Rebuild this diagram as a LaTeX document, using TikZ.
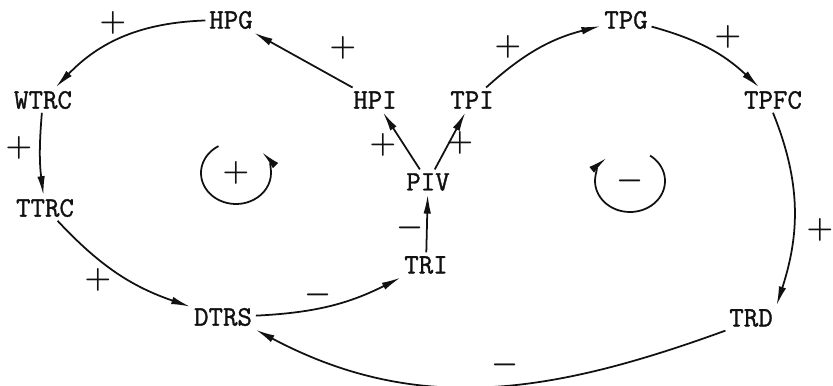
\documentclass[tikz,border=0pt]{standalone}
\usepackage{fontspec}
\usepackage{amsmath}
\newfontfamily\typefont[FakeBold=1.2]{Latin Modern Mono}
\usepackage{tikz}
\usetikzlibrary{arrows.meta, calc}
\definecolor{inkblack}{HTML}{111111}

\begin{document}
\begin{tikzpicture}[
    every node/.style={font=\typefont\fontsize{16}{18}\selectfont, inner sep=2pt, text=inkblack},
    link/.style={-{Latex[length=3.8mm, width=1.5mm]}, line width=1pt, draw=inkblack},
    sgn/.style={font=\fontsize{16}{16}\selectfont, inner sep=0pt}]
  \useasboundingbox (0,0) rectangle (16.66,-7.72);
  % variables
  \node (hpg)  at (4.62,-0.40)  {HPG};
  \node (wtrc) at (0.86,-2.00)  {WTRC};
  \node (ttrc) at (0.90,-4.16)  {TTRC};
  \node (dtrs) at (4.46,-6.34)  {DTRS};
  \node (tri)  at (8.52,-5.30)  {TRI};
  \node (piv)  at (8.56,-3.64)  {PIV};
  \node (hpi)  at (7.50,-2.00)  {HPI};
  \node (tpi)  at (9.44,-2.00)  {TPI};
  \node (tpg)  at (12.52,-0.40) {TPG};
  \node (tpfc) at (15.46,-2.00) {TPFC};
  \node (trd)  at (15.02,-6.36) {TRD};
  % causal links
  \draw[link] (hpg) to[bend right=22] (wtrc);
  \draw[link] (hpi) -- (hpg);
  \draw[link] (wtrc) to[bend right=6] (ttrc);
  \draw[link] (ttrc) to[bend right=14] (dtrs);
  \draw[link] (dtrs) to[bend right=12] (tri);
  \draw[link] (tri) -- (piv);
  \draw[link] (piv) -- (hpi);
  \draw[link] (piv) -- (tpi);
  \draw[link] (tpi) to[bend left=14] (tpg);
  \draw[link] (tpg) to[bend left=14] (tpfc);
  \draw[link] (tpfc.south) to[out=-68, in=72] (trd.north east);
  \draw[link] (trd.south west) to[out=200, in=-28] (dtrs.south east);
  % link polarities
  \foreach \n/\p/\s in {a/{2.26,-0.46}/+, b/{6.86,-0.96}/+, c/{0.38,-2.96}/+,
      d/{7.66,-2.90}/+, e/{10.16,-0.94}/+, f/{9.20,-2.86}/+, g/{14.56,-0.74}/+,
      h/{16.40,-4.60}/+, i/{1.96,-5.60}/+, j/{6.36,-5.90}/-, k/{8.20,-4.56}/-,
      l/{10.10,-7.30}/-}
    \node[sgn] (s\n) at (\p) {$\boldsymbol{\s}$};
  % loop markers
  \coordinate (rloop) at (4.72,-3.46);
  \coordinate (bloop) at (12.60,-3.62);
  \node[sgn] (rsign) at (rloop) {$\boldsymbol{+}$};
  \node[sgn] (bsign) at (bloop) {$\boldsymbol{-}$};
  \draw[link] ($(rloop)+(120:0.7 and 0.62)$) arc[start angle=120, end angle=402, x radius=0.7, y radius=0.62];
  \draw[link] ($(bloop)+(55:0.7 and 0.62)$) arc[start angle=55, end angle=-228, x radius=0.7, y radius=0.62];
\end{tikzpicture}
\end{document}
